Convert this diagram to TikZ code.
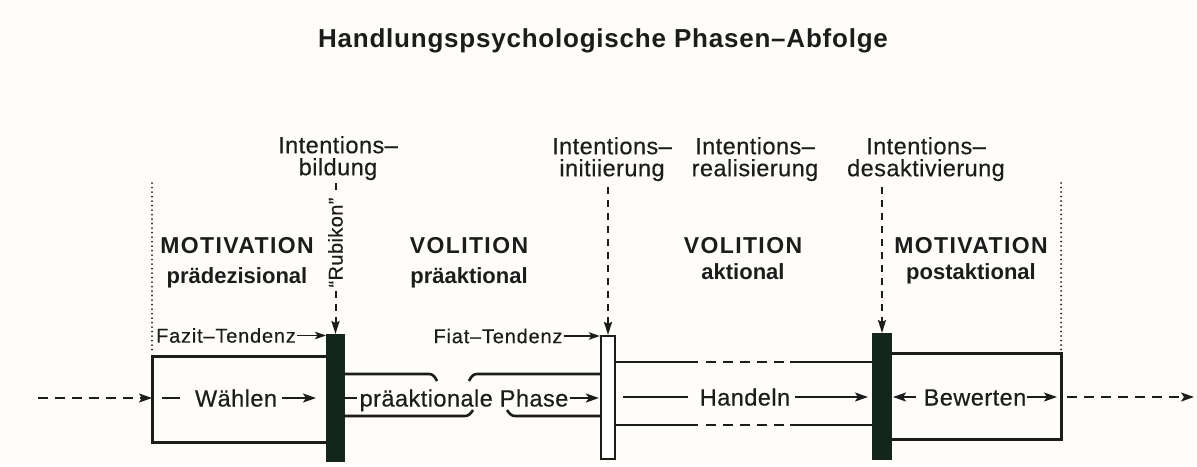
\documentclass[tikz,border=0pt]{standalone}
\usepackage{fontspec}
\setmainfont{Liberation Sans}
\newfontfamily\titlesans{Liberation Sans}[LetterSpace=3]
\newfontfamily\phasesans{Liberation Sans}[LetterSpace=6]
\newfontfamily\labelsans{Liberation Sans}[LetterSpace=2,FakeBold=0.4]
\newfontfamily\smallsans{Liberation Sans}[LetterSpace=4,FakeBold=0.4]
\usetikzlibrary{arrows.meta}
\definecolor{ink}{HTML}{1C1C1C}
\definecolor{barcol}{HTML}{14261C}
\definecolor{paper}{HTML}{FEFDF9}
\begin{document}
\begin{tikzpicture}[x=1pt,y=-1pt,
  every node/.style={text=ink},
  boxline/.style={draw=ink, line width=3pt, line join=miter},
  chanline/.style={draw=ink, line width=2.6pt},
  arr/.style={draw=ink, line width=2pt, -{Stealth[length=13pt,width=9pt,inset=3pt]}},
  smallarr/.style={draw=ink, line width=1.8pt, -{Stealth[length=11pt,width=7.5pt,inset=2.5pt]}},
  plainline/.style={draw=ink, line width=2pt},
  dasharr/.style={draw=ink, line width=2pt, dash pattern=on 10pt off 7pt, -{Stealth[length=13pt,width=9pt,inset=3pt]}},
  vdash/.style={draw=ink, line width=2pt, dash pattern=on 7pt off 6pt},
  vdasharr/.style={vdash, -{Stealth[length=13pt,width=8pt,inset=2pt]}},
  dotline/.style={draw=ink, line width=2pt, line cap=round, dash pattern=on 0pt off 4.5pt},
  blackbar/.style={fill=barcol, draw=none, inner sep=0pt, outer sep=0pt},
  whitebar/.style={fill=white, draw=ink, line width=2.2pt, inner sep=0pt},
  chantext/.style={font=\fontsize{23.5}{28}\selectfont\labelsans, inner sep=0pt, text height=17pt, text depth=0pt},
  smalltext/.style={font=\fontsize{20}{24}\selectfont\smallsans, inner sep=0pt, text height=14.3pt, text depth=0pt},
  toplabel/.style={font=\fontsize{23.5}{22}\selectfont\labelsans, align=center, anchor=north, inner sep=0pt},
  phaselabel/.style={align=center, anchor=north, inner sep=0pt}
]
\fill[paper] (0,0) rectangle (1197,466);
\useasboundingbox (0,0) rectangle (1197,466);

% title
\node[font=\fontsize{26}{30}\selectfont\titlesans\bfseries, anchor=base] (title) at (603,47)
  {Handlungspsychologische Phasen–Abfolge};

% phase borders
\draw[dotline] (152,183) -- (152,354);
\draw[dotline] (1061,183) -- (1061,351);

% transition bars
\node[blackbar, minimum width=19pt, minimum height=128pt] (bildungbar) at (335.5,398) {};
\node[whitebar, minimum width=14pt, minimum height=123pt] (initbar) at (608,397.5) {};
\node[blackbar, minimum width=20pt, minimum height=127pt] (desaktbar) at (882,396.5) {};

% decision box and evaluation box
\coordinate (inL) at (152,398);
\coordinate (outR) at (1061,397);
\draw[boxline] (bildungbar.west |- 0,356) -- (152,356) -- (152,442) -- (bildungbar.west |- 0,442);
\draw[boxline] (desaktbar.east |- 0,353) -- (1061,353) -- (1061,439) -- (desaktbar.east |- 0,439);

% broken preactional channel
\draw[chanline] (bildungbar.east |- 0,374) -- (429,374) .. controls (433,374) and (435,377) .. (437,381);
\draw[chanline] (469,381) .. controls (471,377) and (473,374) .. (477,374) -- (initbar.west |- 0,374);
\draw[chanline] (bildungbar.east |- 0,416) -- (465,416) .. controls (469,416) and (471,413) .. (473,410);
\draw[chanline] (507,410) .. controls (509,413) and (511,416) .. (515,416) -- (initbar.west |- 0,416);

% actional channel
\draw[chanline] (initbar.east |- 0,362) -- (698,362);
\draw[chanline, dash pattern=on 10pt off 7pt] (706,362) -- (784,362);
\draw[chanline] (790,362) -- (desaktbar.west |- 0,362);
\draw[chanline] (initbar.east |- 0,425) -- (698,425);
\draw[chanline, dash pattern=on 10pt off 7pt] (706,425) -- (784,425);
\draw[chanline] (790,425) -- (desaktbar.west |- 0,425);

% flow through the phases
\coordinate (srcL) at (38,398);
\coordinate (sinkR) at (1194,397);
\draw[dasharr] (srcL) -- (inL);

\node[chantext] (waehlen) at (236,398) {Wählen};
\draw[plainline] ([xshift=-15pt]waehlen.west) -- ++(-18,0);
\draw[arr, shorten >=10pt] ([xshift=5pt]waehlen.east) -- (waehlen.east -| bildungbar.west);

\node[chantext] (praeakt) at (464,398) {präaktionale Phase};
\draw[plainline] (praeakt.west -| bildungbar.east) -- ([xshift=-2pt]praeakt.west);
\draw[arr, shorten >=1pt] ([xshift=1pt]praeakt.east) -- (praeakt.east -| initbar.west);

\node[chantext] (handeln) at (745,397) {Handeln};
\draw[plainline] (623,397) -- ([xshift=-12pt]handeln.west);
\draw[arr, shorten >=4pt] ([xshift=5pt]handeln.east) -- (handeln.east -| desaktbar.west);

\node[chantext] (bewerten) at (975,397) {Bewerten};
\draw[arr, shorten >=1pt] ([xshift=-8pt]bewerten.west) -- (bewerten.west -| desaktbar.east);
\draw[arr, shorten >=4pt] ([xshift=1pt]bewerten.east) -- (outR);

\draw[dasharr] ([xshift=6pt]outR) -- (sinkR);

% tendencies
\node[smalltext] (fazit) at (226,335.5) {Fazit–Tendenz};
\draw[smallarr] ([xshift=1pt]fazit.east) -- (fazit.east -| bildungbar.west);
\node[smalltext] (fiat) at (498,336) {Fiat–Tendenz};
\draw[smallarr] ([xshift=1pt]fiat.east) -- (fiat.east -| initbar.west);

% transition labels
\node[toplabel] (bildung) at (338,136) {Intentions–\\bildung};
\node[toplabel] (initi) at (612,137) {Intentions–\\initiierung};
\node[toplabel] (realis) at (755,137) {Intentions–\\realisierung};
\node[toplabel] (desakt) at (926,137) {Intentions–\\desaktivierung};

\node[font=\fontsize{20}{24}\selectfont\labelsans, rotate=90, inner sep=0pt] (rubikon) at (335.5,242.5) {“Rubikon”};
\draw[vdash, shorten <=3pt, shorten >=3pt] (bildung.south -| bildungbar.north) -- (rubikon.east);
\draw[vdasharr, shorten <=3pt] (rubikon.west) -- (bildungbar.north);
\draw[vdasharr, shorten <=6pt] (initi.south -| initbar.north) -- (initbar.north);
\draw[vdasharr, shorten <=6pt] (desakt.south -| desaktbar.north) -- (desaktbar.north);

% phase names
\node[phaselabel, font=\fontsize{22}{30}\selectfont\bfseries] (motpre) at (237,237) {{\fontsize{23}{30}\selectfont\phasesans MOTIVATION}\\prädezisional};
\node[phaselabel, font=\fontsize{22}{30}\selectfont\bfseries] (volpre) at (469,237) {{\fontsize{23}{30}\selectfont\phasesans VOLITION}\\präaktional};
\node[phaselabel, font=\fontsize{22}{26}\selectfont\bfseries] (volakt) at (743,237) {{\fontsize{23}{26}\selectfont\phasesans VOLITION}\\aktional};
\node[phaselabel, font=\fontsize{22}{26}\selectfont\bfseries] (motpost) at (971,237) {{\fontsize{23}{26}\selectfont\phasesans MOTIVATION}\\postaktional};
\end{tikzpicture}
\end{document}
